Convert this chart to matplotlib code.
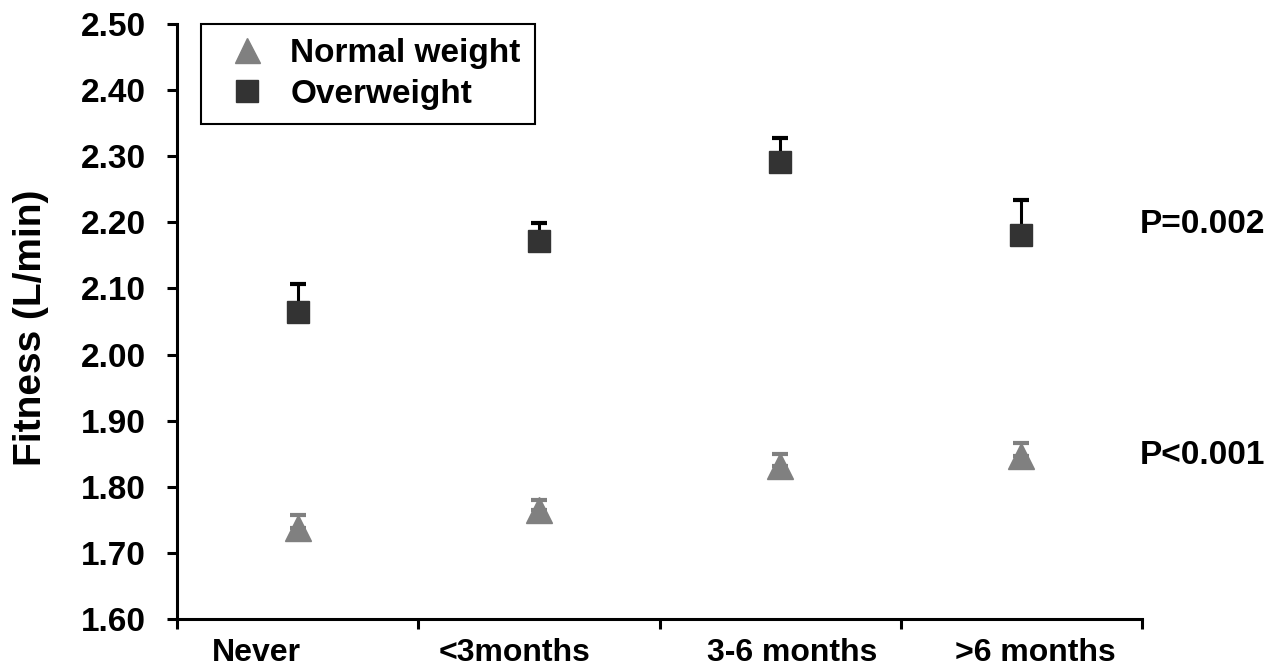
import numpy as np
import matplotlib
matplotlib.use('Agg')
import matplotlib.pyplot as plt
from matplotlib.lines import Line2D

plt.rcParams['font.family'] = ['Liberation Sans', 'DejaVu Sans']
plt.rcParams['font.weight'] = 'bold'

groups = ['Never', '<3months', '3-6 months', '>6 months']

# mean fitness and upper SE per group
over_mean = [2.064, 2.172, 2.291, 2.181]
over_err = [0.042, 0.027, 0.037, 0.053]
normal_mean = [1.737, 1.765, 1.831, 1.847]
normal_err = [0.020, 0.015, 0.019, 0.019]

p_labels = ['P=0.002', 'P<0.001']

x = np.arange(1, len(groups) + 1)

fig = plt.figure(figsize=(12.7, 6.66), dpi=100)
ax = fig.add_axes([0.1394, 0.0706, 0.7598, 0.8934])

dark = '#333333'
grey = '#808080'

ax.errorbar(x, normal_mean, yerr=[np.zeros(4), normal_err], fmt='none',
            ecolor=grey, elinewidth=2.2, capsize=5.8, capthick=3, zorder=2)
ax.plot(x, normal_mean, '^', color=grey, ms=19, mec=grey, zorder=3)

ax.errorbar(x, over_mean, yerr=[np.zeros(4), over_err], fmt='none',
            ecolor='black', elinewidth=2.2, capsize=5.8, capthick=3, zorder=2)
ax.plot(x, over_mean, 's', color=dark, ms=15.8, mec=dark, zorder=3)

ax.set_xlim(0.5, len(groups) + 0.5)
ax.set_ylim(1.6, 2.5)
ax.set_yticks(np.arange(1.6, 2.51, 0.1))
ax.set_yticklabels(['%.2f' % v for v in np.arange(1.6, 2.51, 0.1)], fontsize=24, fontweight='bold')
ax.tick_params(axis='y', direction='out', length=7.2, width=2.2, pad=15)

# ticks between categories, names under each category
ax.set_xticks(np.arange(0.5, len(groups) + 1, 1.0))
ax.set_xticklabels([])
ax.tick_params(axis='x', which='major', direction='out', length=7.2, width=2.2)
label_shift = [-0.17, -0.10, 0.05, 0.06]
ax.set_xticks(x + np.array(label_shift), minor=True)
ax.set_xticklabels(groups, minor=True, fontsize=23, fontweight='bold')
ax.tick_params(axis='x', which='minor', length=0, pad=14)

for side in ['top', 'right']:
    ax.spines[side].set_visible(False)
for side in ['left', 'bottom']:
    ax.spines[side].set_linewidth(2.2)

ax.set_ylabel('Fitness (L/min)', fontsize=28, fontweight='bold')
ax.yaxis.set_label_coords(-0.133, 0.49)

# P values to the right of each series
ax.text(len(groups) + 0.49, over_mean[-1] + 0.015, p_labels[0], fontsize=24,
        fontweight='bold', va='center', ha='left', clip_on=False)
ax.text(len(groups) + 0.49, normal_mean[-1], p_labels[1], fontsize=24,
        fontweight='bold', va='center', ha='left', clip_on=False)

handles = [
    Line2D([], [], ls='none', marker='^', color=grey, ms=18),
    Line2D([], [], ls='none', marker='s', color=dark, ms=15.5),
]
leg = ax.legend(handles, ['Normal weight', 'Overweight'], loc='upper left',
                bbox_to_anchor=(0.025, 1.0), borderaxespad=0, frameon=True,
                fancybox=False, edgecolor='black', framealpha=1,
                prop={'size': 24, 'weight': 'bold'}, handlelength=1.9,
                handletextpad=0.36, labelspacing=0.3, borderpad=0.42)
leg.get_frame().set_linewidth(1.5)

fig.savefig('out.png', dpi=100)
